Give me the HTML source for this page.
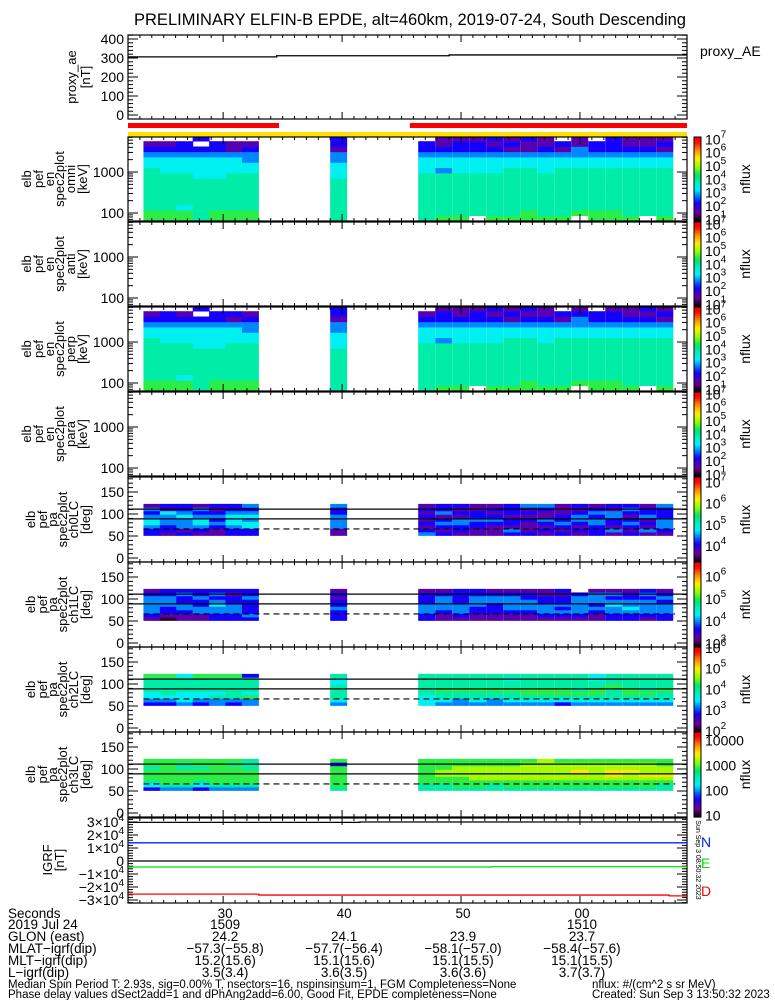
<!DOCTYPE html>
<html><head><meta charset="utf-8">
<style>
html,body{margin:0;padding:0;background:#fff;}
svg{display:block;font-family:"Liberation Sans",sans-serif;}
text{fill:#000;}
</style></head>
<body>
<svg id="chart" width="775" height="1000" viewBox="0 0 775 1000" xmlns="http://www.w3.org/2000/svg">
<rect x="0" y="0" width="775" height="1000" fill="#fff"/>
<text x="410" y="25" font-size="16.5" text-anchor="middle">PRELIMINARY ELFIN-B EPDE, alt=460km, 2019-07-24, South Descending</text>
</svg>
<script>
// ---------------- DATA ----------------
const aeBreaks=[22,34.5,49,69];
const aeValues=[306,312,316];
const redBarStarts=[22,45.7];
const redBarEnds=[34.7,69];
const colStarts=[23.3,24.68,26.06,27.44,28.82,30.2,31.58,39.0,46.4,47.83,49.26,50.69,52.12,53.55,54.98,56.41,57.84,59.27,60.7,62.13,63.56,64.99,66.42];
const colWidth=1.40;
const energyEdges=[64,86,116,157,211,285,384,518,698,941,1268,1709,2303,3104,4183,5638,7130];
const omniData=["665555555544321.","665555555444321.","664555555444322.","55555555444432.2","665555554444322.","665555555444311.","665555555443321.","5555555544433122",
"555555555444322.","6555555553443211","6555555554443221",".555555554443221","6555555554443212","6555555555443121","6655555555443112","6555555554443211","655555555544312.",".655555555443311","665555555544322.","6655555555443222","6555555555443211",".555555555443211","6555555555443121"];
const perpData=["665555555544321.","665555555444322.","664555555444321.","55555555444432.2","665555554444322.","665555555444312.","665555555443321.","5555555544433122",
"555555555444321.","6555555553443221","6555555554443211",".555555554443221","6555555554443212","6555555555443121","6655555555443212","6555555554443211","655555555544312.",".655555555443321","665555555544322.","6655555555443221","6555555555443211",".555555555443212","6555555555443121"];
const paEdges=[51,59,67,75,83,91,99,107,115,123];
const ch0Data=["223443231","122333412","213334322","123443231","112323212","223444322","224434323","113333223",
"321212121","212321322","122331212","112232211","111232121","231221222","211121213","121231123","212322111","121233212","222332321","131223312","212321232","131213221","123332223"];
const ch1Data=["123333321","012233322","112332232","113322322","223343232","223332212","232222322","222322121",
"223332221","112333321","123332222","112233322","112223321","112333321","112333221","123332211","123232212","12333332.","112323331","223343231","223433221","123333232","223332321"];
const ch2Data=["234455556","234555556","344455554","234455556","335455556","235555556","336455552","345555445",
"444555555","345565555","335565555","345565555","335565555","345565545","345665555","345665555","245665555","345655555","345665544","345556555","345665555","345655555","345565555"];
const ch3Data=["245666566","356666666","356666556","245666566","356666666","356666656","356666555","566666626",
"556666666","556677666","566677766","566777766","556777766","566777766","566777776","566777777","566777776","566778776","566777776","566788776","566778776","566787776","556787766"];
const totBreaks=[22,41.5,69]; const totValues=[29700,30000];
const northBreaks=[22,69]; const northValues=[14000];
const eastBreaks=[22,52.5,69]; const eastValues=[-4600,-4400];
const downBreaks=[22,33,67.5,69]; const downValues=[-25500,-26200,-26800];
const timeTicks=[30,40,50,60];
const timeTickLabels=["30","40","50","00"];
const hhmmLabels=["1509","","","1510"];
const glonLabels=["24.2","24.1","23.9","23.7"];
const mlatLabels=["\u221257.3(\u221255.8)","\u221257.7(\u221256.4)","\u221258.1(\u221257.0)","\u221258.4(\u221257.6)"];
const mltLabels=["15.2(15.6)","15.1(15.6)","15.1(15.5)","15.1(15.5)"];
const lLabels=["3.5(3.4)","3.6(3.5)","3.6(3.6)","3.7(3.7)"];

// ---------------- HELPERS ----------------
const NS='http://www.w3.org/2000/svg';
const svg=document.getElementById('chart');
const X0=128,X1=687,T0=22,T1=69;
function xS(t){return X0+(t-T0)*(X1-X0)/(T1-T0);}
function mk(tag,attrs,parent){const e=document.createElementNS(NS,tag);for(const k in attrs)e.setAttribute(k,attrs[k]);(parent||svg).appendChild(e);return e;}
function txt(s,attrs,parent){const e=mk('text',attrs,parent);e.textContent=s;return e;}
const stops=[[0,0,0,0],[0.1,110,0,150],[0.22,20,0,255],[0.3,0,120,255],[0.38,0,240,255],[0.46,0,240,200],[0.55,0,230,100],[0.65,140,255,0],[0.75,255,240,0],[0.85,255,140,0],[0.95,255,0,0],[1,255,0,0]];
function cmap(t){t=Math.max(0,Math.min(1,t));for(let i=1;i<stops.length;i++){if(t<=stops[i][0]){const a=stops[i-1],b=stops[i],f=(t-a[0])/(b[0]-a[0]||1);return 'rgb('+Math.round(a[1]+f*(b[1]-a[1]))+','+Math.round(a[2]+f*(b[2]-a[2]))+','+Math.round(a[3]+f*(b[3]-a[3]))+')';}}return 'rgb(255,0,0)';}
function codeColor(c){return cmap(0.04+parseInt(c)*0.09);}

function frame(p,name){
  const g=mk('g',{});
  
  
  for(let t=23;t<=69;t++){const x=xS(t);const L=(t%10===0)?7:3;
    mk('line',{x1:x,x2:x,y1:p.top,y2:p.top+L,stroke:'#000','stroke-width':1},g);
    mk('line',{x1:x,x2:x,y1:p.bot,y2:p.bot-L,stroke:'#000','stroke-width':1},g);}
  mk('rect',{x:X0,y:p.top,width:X1-X0,height:p.bot-p.top,fill:'none',stroke:'#000','stroke-width':1.2},g);
  return g;
}
function yTicks(p,yf,majors,minors,labels,name){
  const g=mk('g',{});
  
  
  minors.forEach(v=>{const y=yf(v);if(y<p.top||y>p.bot)return;mk('line',{x1:X0,x2:X0+5,y1:y,y2:y,stroke:'#000'},g);mk('line',{x1:X1,x2:X1-5,y1:y,y2:y,stroke:'#000'},g);});
  majors.forEach((v,i)=>{const y=yf(v);mk('line',{x1:X0,x2:X0+10,y1:y,y2:y,stroke:'#000'},g);mk('line',{x1:X1,x2:X1-10,y1:y,y2:y,stroke:'#000'},g);
    const lab=labels[i];
    if(typeof lab==='string'){txt(lab,{x:124,y:y+5,'font-size':14,'text-anchor':'end'},g);}
    else{const t=txt('',{x:124,y:y+5,'font-size':14,'text-anchor':'end'},g);t.appendChild(document.createTextNode(lab[0]+'\u00d710'));const s=document.createElementNS(NS,'tspan');s.setAttribute('font-size','10');s.setAttribute('dy','-6');s.textContent=lab[1];t.appendChild(s);}
  });
}
function yLabel(lines,xs,cy,name){
  const g=mk('g',{});
  
  
  lines.forEach((s,i)=>{txt(s,{x:0,y:0,'font-size':13,'text-anchor':'middle',transform:'translate('+xs[i]+','+cy+') rotate(-90)'},g);});
}
function colorbar(p,lo,hi,exps,name,plainLabels){
  const g=mk('g',{});
  
  
  const n=40,h=(p.bot-p.top)/n;
  for(let i=0;i<n;i++){mk('rect',{x:694,y:p.bot-(i+1)*h,width:7,height:h+0.6,fill:cmap((i+0.5)/n)},g);}
  mk('rect',{x:694,y:p.top,width:7,height:p.bot-p.top,fill:'none',stroke:'#000','stroke-width':1},g);
  exps.forEach((e,i)=>{const y=p.bot-(e-lo)/(hi-lo)*(p.bot-p.top);
    if(plainLabels){txt(plainLabels[i],{x:705,y:y+6,'font-size':14},g);}
    else{const t=txt('10',{x:705,y:y+6,'font-size':14},g);const s=document.createElementNS(NS,'tspan');s.setAttribute('font-size','10');s.setAttribute('dy','-7');s.textContent=String(e);t.appendChild(s);}
  });
  txt('nflux',{x:0,y:0,'font-size':14,'text-anchor':'middle',transform:'translate(750,'+((p.top+p.bot)/2)+') rotate(-90)'},g);
}
function stepLine(breaks,vals,yf,color,name,dash){
  let d='';
  for(let i=0;i<vals.length;i++){const y=yf(vals[i]);d+=(i===0?'M':'L')+xS(breaks[i])+','+y+'L'+xS(breaks[i+1])+','+y;}
  const e=mk('path',{d:d,fill:'none',stroke:color,'stroke-width':1.3});
  if(dash)e.setAttribute('stroke-dasharray',dash);
  
  
}

// ---------------- PROXY AE ----------------
const pAE={top:35,bot:119};
const yAE=v=>115-v*(76/400);
frame(pAE,'proxy-ae');
const aeMinor=[];for(let v=0;v<=420;v+=20)aeMinor.push(v);
yTicks(pAE,yAE,[0,100,200,300,400],aeMinor,['0','100','200','300','400'],'proxy-ae');
stepLine(aeBreaks,aeValues,yAE,'#000','proxy-ae-line');
yLabel(['proxy_ae','[nT]'],[76,90],77,'proxy-ae-y-title');
txt('proxy_AE',{x:700,y:56,'font-size':14});

// status bars
redBarStarts.forEach((s,i)=>{const e=mk('rect',{x:xS(s),y:123,width:xS(redBarEnds[i])-xS(s),height:5,fill:'#ff0000'});
  
  });
const yb=mk('rect',{x:X0,y:132,width:X1-X0,height:5,fill:'#ffe000'});



// ---------------- SPECTROGRAMS ----------------
const specPanels=[{top:137,bot:221,n:'omni',d:omniData},{top:222,bot:306,n:'anti',d:null},{top:307,bot:391,n:'perp',d:perpData},{top:392,bot:476,n:'para',d:null}];
specPanels.forEach(p=>{
  const yE=e=>p.top+35-(Math.log10(e)-3)*41;
  if(p.d){const g=mk('g',{});
    
    
    p.d.forEach((col,i)=>{for(let j=0;j<col.length;j++){const c=col[j];if(c==='.')continue;
      const y1=Math.max(p.top,yE(energyEdges[j+1])),y2=Math.min(p.bot,yE(energyEdges[j]));
      mk('rect',{x:xS(colStarts[i]),y:y1,width:xS(colStarts[i]+colWidth)-xS(colStarts[i])+0.3,height:y2-y1+0.3,fill:codeColor(c)},g);}});}
  frame(p,'spec-'+p.n);
  const minors=[];[10,100,1000].forEach(b=>{for(let k=2;k<10;k++)minors.push(b*k);});
  yTicks(p,yE,[100,1000],minors,['100','1000'],'spec-'+p.n);
  yLabel(['elb','pef','en','spec2plot',p.n,'[keV]'],[31,43,54,64,75,87],(p.top+p.bot)/2,'spec-'+p.n+'-y-title');
  colorbar(p,0.8,7.1,[1,2,3,4,5,6,7],'spec-'+p.n);
});

// ---------------- PITCH ANGLE ----------------
const paPanels=[{top:477,bot:562,n:'ch0LC',d:ch0Data,lo:3.2,hi:7.2,ex:[4,5,6,7]},{top:562,bot:647,n:'ch1LC',d:ch1Data,lo:2.8,hi:6.6,ex:[3,4,5,6]},{top:647,bot:732,n:'ch2LC',d:ch2Data,lo:1.9,hi:6.0,ex:[2,3,4,5,6]},{top:732,bot:817,n:'ch3LC',d:ch3Data,lo:0.9,hi:4.3,ex:[1,2,3,4],pl:['10','100','1000','10000']}];
paPanels.forEach(p=>{
  const yP=v=>p.top+81-v*0.44;
  const g=mk('g',{});
  
  
  p.d.forEach((col,i)=>{for(let j=0;j<col.length;j++){const c=col[j];if(c==='.')continue;
    const y1=yP(paEdges[j+1]),y2=yP(paEdges[j]);
    mk('rect',{x:xS(colStarts[i]),y:y1,width:xS(colStarts[i]+colWidth)-xS(colStarts[i])+0.3,height:y2-y1+0.3,fill:codeColor(c)},g);}});
  const l1=mk('line',{x1:X0,x2:X1,y1:yP(111),y2:yP(111),stroke:'#000','stroke-width':1.2});
  
  
  const l2=mk('line',{x1:X0,x2:X1,y1:yP(89),y2:yP(89),stroke:'#000','stroke-width':1.2});
  
  
  const l3=mk('line',{x1:xS(23.3),x2:xS(68),y1:yP(66),y2:yP(66),stroke:'#000','stroke-width':1.2,'stroke-dasharray':'6,4'});
  
  
  frame(p,'pa-'+p.n);
  const minors=[];for(let v=0;v<=180;v+=10)minors.push(v);
  yTicks(p,yP,[0,50,100,150],minors,['0','50','100','150'],'pa-'+p.n);
  yLabel(['elb','pef','pa','spec2plot',p.n,'[deg]'],[35,47,57,67,78,90],(p.top+p.bot)/2,'pa-'+p.n+'-y-title');
  colorbar(p,p.lo,p.hi,p.ex,'pa-'+p.n,p.pl);
});

// ---------------- IGRF ----------------
const pIG={top:818,bot:903};
const yIG=v=>861-v*13/10000;
frame(pIG,'igrf');
const igMinor=[];for(let v=-32000;v<=32000;v+=2000)igMinor.push(v);
yTicks(pIG,yIG,[-30000,-20000,-10000,0,10000,20000,30000],igMinor,[['\u22123','4'],['\u22122','4'],['\u22121','4'],'0',['1','4'],['2','4'],['3','4']],'igrf');
const zl=mk('line',{x1:X0,x2:X1,y1:yIG(0),y2:yIG(0),stroke:'#000','stroke-width':1.3});


stepLine(totBreaks,totValues,yIG,'#000','igrf-total-line');
stepLine(northBreaks,northValues,yIG,'#0020ff','igrf-north-line');
stepLine(eastBreaks,eastValues,yIG,'#00e000','igrf-east-line');
stepLine(downBreaks,downValues,yIG,'#ff0000','igrf-down-line');
yLabel(['IGRF','[nT]'],[52,64],860,'igrf-y-title');
[['N','#0020ff',847],['E','#00e000',868],['D','#ff0000',896]].forEach(a=>{const e=txt(a[0],{x:701,y:a[2],'font-size':14,fill:a[1]});e.style.fill=a[1];
  
  });
const st=txt('Sun Sep  3 08:50:32 2023',{x:0,y:0,'font-size':7,'text-anchor':'middle',transform:'translate(696,860) rotate(90)'});



// ---------------- BOTTOM TEXT ----------------
const rows=[['Seconds',timeTickLabels,918],['2019 Jul 24',hhmmLabels,929],['GLON (east)',glonLabels,941],['MLAT\u2212igrf(dip)',mlatLabels,953],['MLT\u2212igrf(dip)',mltLabels,965],['L\u2212igrf(dip)',lLabels,977]];
rows.forEach((r,ri)=>{const g=mk('g',{});
  
  
  txt(r[0],{x:8,y:r[2],'font-size':13.5},g);
  r[1].forEach((s,i)=>{if(s)txt(s,{x:xS(timeTicks[i])+2,y:r[2],'font-size':13.5,'text-anchor':'middle'},g);});});
const foot=[['Median Spin Period T: 2.93s, sig=0.00% T, nsectors=16, nspinsinsum=1, FGM Completeness=None',8,988],['nflux: #/(cm^2 s sr MeV)',592,988],['Phase delay values dSect2add=1 and dPhAng2add=6.00, Good Fit, EPDE completeness=None',8,998],['Created: Sun Sep  3 13:50:32 2023',592,998]];
foot.forEach((f,i)=>{const e=txt(f[0],{x:f[1],y:f[2],'font-size':11.5});
  
  });
</script>
</body></html>
